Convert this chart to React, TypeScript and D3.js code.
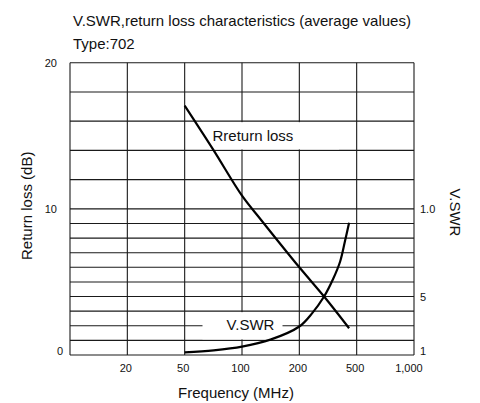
import React from "react";
import * as d3 from "d3";

// ---- data ----
const freqTicks = [10, 20, 50, 100, 200, 500, 1000];
const freqTickLabels = ["", "20", "50", "100", "200", "500", "1,000"];
const leftTickValues = [20, 10, 0];
const rightTickValues = [10, 4, 0];
const rightTickLabels = ["1.0", "5", "1"];
const gridMajor = [0, 1, 2, 3, 4, 5, 6, 7, 8, 9, 10, 12, 14, 16, 18, 20];

const returnLossFreq = [50, 71, 100, 126, 200, 297, 443];
const returnLossDb = [17.06, 14.0, 10.9, 9.24, 6.0, 4.0, 1.83];

const vswrFreq = [50, 71, 100, 141, 200, 245, 297, 343, 384, 415, 443];
const vswrPos = [0.18, 0.32, 0.57, 1.05, 1.95, 2.85, 4.0, 5.2, 6.4, 7.8, 9.05];

const FONT = "'Liberation Sans', Arial, Helvetica, sans-serif";

export default function App() {
  const W = 480, H = 403;
  const L = 70, R = 414, T = 62.7, B = 355;
  const step = (R - L) / (freqTicks.length - 1);
  const x = d3
    .scaleLog()
    .domain(freqTicks)
    .range(freqTicks.map((_, i) => L + i * step));
  const y = d3.scaleLinear().domain([0, 20]).range([B, T]);

  const line = d3
    .line<[number, number]>()
    .x((d) => x(d[0]))
    .y((d) => y(d[1]))
    .curve(d3.curveCatmullRom.alpha(0.5));

  const rl = returnLossFreq.map((f, i) => [f, returnLossDb[i]] as [number, number]);
  const vs = vswrFreq.map((f, i) => [f, vswrPos[i]] as [number, number]);

  return (
    <svg
      width={W}
      height={H}
      style={{ position: "absolute", left: 0, top: 0, background: "#fff" }}
      fontFamily={FONT}
    >
      <rect x={0} y={0} width={W} height={H} fill="#fff" />
      <text x={73} y={25.5} fontSize={15} fill="#111">
        V.SWR,return loss characteristics (average values)
      </text>
      <text x={73} y={49} fontSize={15} fill="#111">
        Type:702
      </text>

      {/* grid */}
      {gridMajor.map((v) => (
        <line key={"h" + v} x1={L} x2={R} y1={y(v)} y2={y(v)} stroke="#1a1a1a" strokeWidth={1.1} />
      ))}
      {freqTicks.map((f) => (
        <line key={"v" + f} x1={x(f)} x2={x(f)} y1={T} y2={B} stroke="#1a1a1a" strokeWidth={1.1} />
      ))}

      {/* label boxes hiding grid */}
      <rect x={209} y={y(16) + 1} width={130} height={y(14) - y(16) - 2} fill="#fff" />
      <rect x={202.5} y={y(3) + 1} width={80} height={y(1) - y(3) - 2} fill="#fff" />

      {/* curves */}
      <path d={line(rl) || ""} fill="none" stroke="#000" strokeWidth={2.2} />
      <path d={line(vs) || ""} fill="none" stroke="#000" strokeWidth={2.2} />

      <text x={212.5} y={140.7} fontSize={15} fill="#111">
        Rreturn loss
      </text>
      <text x={250.5} y={330} fontSize={15} fill="#111" textAnchor="middle">
        V.SWR
      </text>

      {/* left ticks */}
      {leftTickValues.map((v) => (
        <text
          key={"lt" + v}
          x={v === 0 ? 63 : 57}
          y={y(v) + (v === 0 ? -4 : 0.5)}
          fontSize={11}
          textAnchor="end"
          dominantBaseline="central"
          fill="#111"
        >
          {v}
        </text>
      ))}

      {/* right ticks */}
      {rightTickValues.map((v, i) => (
        <text
          key={"rt" + v}
          x={420}
          y={y(v) + (v === 0 ? -4 : 0.6)}
          fontSize={11}
          dominantBaseline="central"
          fill="#111"
        >
          {rightTickLabels[i]}
        </text>
      ))}

      {/* bottom ticks */}
      {freqTicks.map((f, i) =>
        freqTickLabels[i] ? (
          <text
            key={"bt" + f}
            x={i === freqTicks.length - 1 ? x(f) + 8.7 : x(f) - 1.5}
            y={372.3}
            fontSize={11}
            textAnchor={i === freqTicks.length - 1 ? "end" : "middle"}
            fill="#111"
          >
            {freqTickLabels[i]}
          </text>
        ) : null
      )}

      <text x={236} y={397.5} fontSize={15} textAnchor="middle" fill="#111">
        Frequency (MHz)
      </text>
      <text
        transform={`translate(31.5,205.8) rotate(-90)`}
        fontSize={15}
        textAnchor="middle"
        fill="#111"
      >
        Return loss (dB)
      </text>
      <text
        transform={`translate(450,212.5) rotate(90)`}
        fontSize={15}
        textAnchor="middle"
        fill="#111"
      >
        V.SWR
      </text>
    </svg>
  );
}
